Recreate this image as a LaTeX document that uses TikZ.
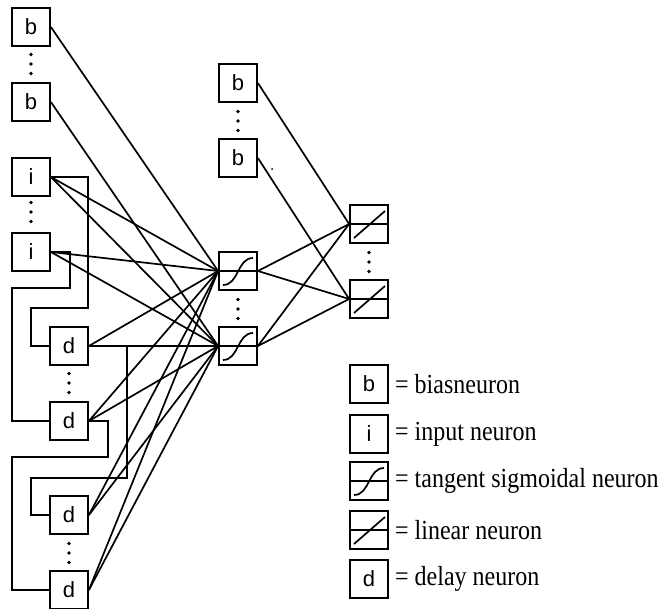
\documentclass[tikz,border=0pt]{standalone}
\usepackage{fontspec}
\setmainfont{Liberation Serif}
\newfontfamily\boxfont{Liberation Sans}
\usetikzlibrary{calc}
\tikzset{
  nbox/.style={draw, line width=1.8pt, minimum width=38pt, minimum height=38pt, inner sep=0pt, font=\boxfont\fontsize{22}{22}\selectfont},
  wire/.style={line width=1.7pt},
  legtxt/.style={anchor=west, inner sep=0pt, font=\fontsize{24}{24}\selectfont},
  vdots/.pic={\fill (0,-9.5) circle (1.9pt) (0,0) circle (1.9pt) (0,9.5) circle (1.9pt);},
  sig/.pic={\draw[wire] (-18,0) -- (18,0);
            \draw[wire] (-15,14) .. controls (1,14) and (-1,-13) .. (15,-13);},
  lin/.pic={\draw[wire] (-18,0) -- (18,0);
            \draw[wire] (-15,14) -- (16,-13);}
}
\begin{document}
\begin{tikzpicture}[x=1pt, y=-1pt]
\useasboundingbox (0,0) rectangle (664,609);
% left column
\node[nbox] (lb1) at (31,27) {b};
\node[nbox] (lb2) at (31,102) {b};
\node[nbox] (li1) at (31,177) {i};
\node[nbox] (li2) at (31,252) {i};
\node[nbox] (ld1) at (69,346) {d};
\node[nbox] (ld2) at (69,421) {d};
\node[nbox] (ld3) at (69,515) {d};
\node[nbox] (ld4) at (69,590) {d};
\pic at (31,64) {vdots};
\pic at (31,212) {vdots};
\pic at (69,383) {vdots};
\pic at (69,553) {vdots};
% middle
\node[nbox] (mb1) at (238,83) {b};
\node[nbox] (mb2) at (238,158) {b};
\node[nbox] (s1) at (238,271) {};
\node[nbox] (s2) at (238,346) {};
\pic at (238,121) {vdots};
\pic at (238,309) {vdots};
\pic at (s1) {sig};
\pic at (s2) {sig};
\fill (272,169) circle (1pt);
% right
\node[nbox] (l1) at (369,224) {};
\node[nbox] (l2) at (369,299) {};
\pic at (369,262) {vdots};
\pic at (l1) {lin};
\pic at (l2) {lin};
% connections to hidden layer
\draw[wire] (lb1.east) -- (s1.west);
\draw[wire] (lb2.east) -- (s2.west);
\foreach \n in {li1,li2,ld1,ld2,ld3,ld4}{
  \draw[wire] (\n.east) -- (s1.west);
  \draw[wire] (\n.east) -- (s2.west);
}
% hidden to output
\draw[wire] (s1.east) -- (l1.west);
\draw[wire] (s1.east) -- (l2.west);
\draw[wire] (s2.east) -- (l1.west);
\draw[wire] (s2.east) -- (l2.west);
\draw[wire] (mb1.east) -- (l1.west);
\draw[wire] (mb2.east) -- (l2.west);
% delay wires
\draw[wire] (li1.east) -- ++(37,0) -- ++(0,131) -| ([xshift=-18pt]ld1.west) -- (ld1.west);
\draw[wire] (li2.east) -- ++(19,0) -- ++(0,36) -| ([xshift=-37pt]ld2.west) -- (ld2.west);
\draw[wire] (ld1.east) -- ++(38,0) -- ++(0,132) -| ([xshift=-18pt]ld3.west) -- (ld3.west);
\draw[wire] (ld2.east) -- ++(19,0) -- ++(0,36) -| ([xshift=-37pt]ld4.west) -- (ld4.west);
% legend
\node[nbox] (gb) at (369,384) {b};
\node[nbox] (gi) at (369,434) {i};
\node[nbox] (gs) at (369,481) {};
\node[nbox] (gl) at (369,530) {};
\node[nbox] (gd) at (369,579) {d};
\pic at (gs) {sig};
\pic at (gl) {lin};
\node[legtxt] (tb) at (395,384) {\scalebox{1}[1.15]{= biasneuron}};
\node[legtxt] (ti) at (395,434) {\scalebox{1}[1.15]{= input neuron}};
\node[legtxt] (ts) at (395,481) {\scalebox{1}[1.15]{= tangent sigmoidal neuron}};
\node[legtxt] (tl) at (395,530) {\scalebox{1}[1.15]{= linear neuron}};
\node[legtxt] (td) at (395,579) {\scalebox{1}[1.15]{= delay neuron}};
\end{tikzpicture}
\end{document}
